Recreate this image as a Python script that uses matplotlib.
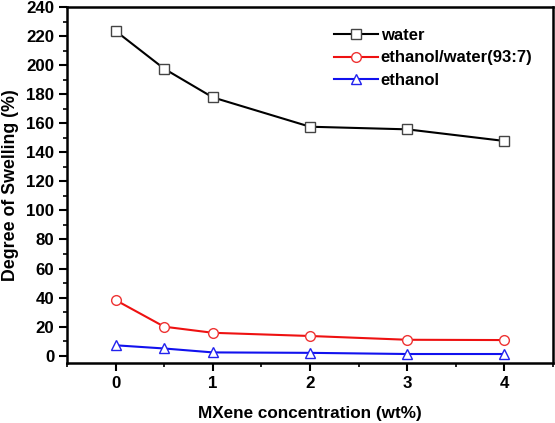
import matplotlib
matplotlib.use("Agg")
import matplotlib.pyplot as plt
from matplotlib.ticker import MultipleLocator

plt.rcParams['font.family'] = ['Liberation Sans', 'DejaVu Sans']
plt.rcParams['font.weight'] = 'bold'

x = [0, 0.5, 1, 2, 3, 4]
water = [223.5, 197.5, 177.8, 157.6, 155.8, 147.8]
ethanol_water = [38.3, 20.0, 15.8, 13.6, 11.0, 10.8]
ethanol = [7.2, 5.0, 2.3, 2.0, 1.2, 1.2]
labels = ["water", "ethanol/water(93:7)", "ethanol"]

fig = plt.figure(figsize=(5.55, 4.23), dpi=100)
ax = fig.add_axes([0.1207, 0.1418, 0.8757, 0.8417])

ax.plot(x, water, color='black', lw=1.5, marker='s', ms=6.5, mfc='white', mec='#444444', mew=1.0, label=labels[0])
ax.plot(x, ethanol_water, color='#ee1111', lw=1.5, marker='o', ms=7, mfc='white', mec='#ee3333', mew=1.0, label=labels[1])
ax.plot(x, ethanol, color='#1111ee', lw=1.5, marker='^', ms=7, mfc='white', mec='#2222ee', mew=1.0, label=labels[2])

ax.set_xlim(-0.5, 4.5)
ax.set_ylim(-5, 240)
ax.set_xticks([0, 1, 2, 3, 4])
ax.xaxis.set_minor_locator(MultipleLocator(0.5))
ax.set_yticks(range(0, 241, 20))
ax.yaxis.set_minor_locator(MultipleLocator(10))

for s in ax.spines.values():
    s.set_linewidth(1.8)
ax.tick_params(which='major', direction='out', length=6, width=1.5, labelsize=12.2, pad=3)
ax.tick_params(which='minor', direction='out', length=3, width=1.2)
ax.tick_params(top=False, right=False, which='both')
for lab in ax.get_xticklabels() + ax.get_yticklabels():
    lab.set_fontweight('bold')

ax.set_xlabel("MXene concentration (wt%)", fontsize=12.3, fontweight='bold', labelpad=11)
ax.set_ylabel("Degree of Swelling (%)", fontsize=12.8, fontweight='bold', labelpad=5)

leg = ax.legend(loc='upper right', bbox_to_anchor=(0.982, 0.974), frameon=False,
                prop={'weight': 'bold', 'size': 12}, handlelength=2.6,
                handletextpad=0.2, labelspacing=0.45, borderaxespad=0.3)

fig.savefig("out.png", dpi=100)
